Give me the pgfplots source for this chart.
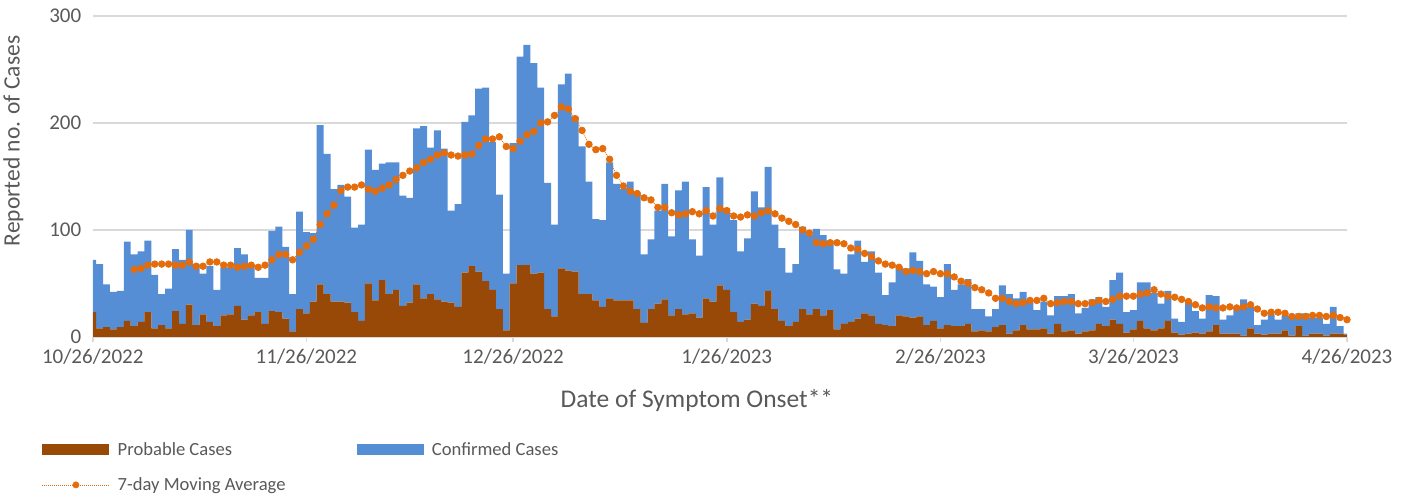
\documentclass[border=0pt]{standalone}
\usepackage{fontspec}
\setmainfont{Carlito}
\usepackage{pgfplots}
\usepackage{pgfplotstable}
\pgfplotsset{compat=1.18}
\definecolor{probc}{HTML}{984807}
\definecolor{confc}{HTML}{558ED5}
\definecolor{mac}{HTML}{E46C0A}
\definecolor{txtc}{HTML}{595959}
\definecolor{gridc}{HTML}{D9D9D9}

\pgfplotstableread{
d P C
0 23 49
1 8 60
2 9 40
3 7 35
4 9 34
5 15 74
6 10 67
7 14 66
8 23 67
9 8 50
10 11 29
11 8 37
12 24 58
13 12 60
14 30 70
15 11 57
16 21 38
17 14 52
18 10 34
19 20 45
20 21 44
21 29 54
22 16 61
23 20 46
24 23 32
25 12 43
26 24 75
27 23 80
28 17 67
29 5 35
30 26 91
31 22 76
32 33 64
33 49 149
34 40 131
35 33 105
36 33 109
37 32 99
38 23 79
39 15 90
40 50 125
41 34 122
42 53 109
43 40 123
44 44 119
45 29 103
46 32 98
47 49 146
48 36 161
49 40 137
50 35 158
51 33 143
52 32 86
53 28 96
54 60 141
55 66 141
56 61 171
57 52 181
58 44 138
59 26 107
60 6 53
61 50 131
62 67 195
63 67 206
64 59 197
65 60 173
66 26 118
67 19 86
68 64 172
69 62 184
70 61 145
71 40 138
72 40 105
73 34 76
74 28 81
75 36 127
76 34 109
77 34 104
78 34 111
79 26 109
80 13 64
81 26 65
82 31 87
83 35 108
84 20 74
85 26 111
86 21 124
87 22 69
88 18 58
89 36 104
90 33 72
91 48 101
92 44 76
93 23 86
94 14 66
95 16 76
96 31 105
97 29 92
98 43 116
99 26 79
100 15 68
101 10 50
102 14 54
103 26 77
104 21 74
105 26 75
106 20 75
107 25 65
108 7 56
109 12 47
110 14 63
111 17 73
112 22 48
113 20 60
114 12 48
115 11 28
116 10 41
117 20 45
118 19 45
119 18 61
120 19 52
121 11 38
122 15 32
123 8 29
124 11 57
125 10 34
126 10 39
127 12 42
128 5 21
129 6 20
130 5 14
131 9 17
132 11 37
133 3 37
134 6 30
135 11 31
136 7 27
137 7 18
138 8 25
139 3 17
140 12 26
141 5 33
142 6 34
143 3 19
144 5 22
145 6 29
146 12 25
147 10 18
148 16 37
149 12 48
150 4 19
151 7 18
152 15 36
153 8 43
154 6 35
155 8 23
156 15 28
157 4 13
158 2 12
159 3 31
160 4 20
161 3 14
162 5 34
163 11 27
164 3 13
165 3 17
166 3 24
167 1 34
168 8 20
169 3 8
170 2 14
171 3 18
172 3 13
173 6 14
174 1 18
175 10 12
176 1 21
177 3 15
178 3 15
179 1 11
180 3 25
181 3 7
182 2 1
}\bars

\pgfplotstableread{
d M
6 63
7 64
8 67
9 68
10 68
11 68
12 67
13 67
14 70
15 66
16 66
17 70
18 70
19 67
20 67
21 65
22 66
23 67
24 65
25 67
26 72
27 77
28 77
29 72
30 79
31 85
32 91
33 105
34 115
35 123
36 137
37 140
38 140
39 142
40 138
41 136
42 139
43 142
44 147
45 151
46 155
47 158
48 163
49 166
50 170
51 172
52 170
53 169
54 170
55 171
56 179
57 185
58 185
59 187
60 178
61 176
62 183
63 189
64 192
65 200
66 201
67 207
68 215
69 213
70 204
71 193
72 180
73 175
74 176
75 166
76 151
77 141
78 136
79 134
80 130
81 128
82 121
83 121
84 116
85 114
86 115
87 117
88 115
89 118
90 113
91 120
92 118
93 113
94 112
95 114
96 113
97 116
98 118
99 115
100 111
101 108
102 105
103 100
104 97
105 88
106 87
107 88
108 88
109 87
110 83
111 82
112 78
113 75
114 71
115 68
116 67
117 65
118 61
119 62
120 61
121 59
122 61
123 59
124 59
125 56
126 52
127 50
128 46
129 44
130 41
131 36
132 36
133 33
134 31
135 32
136 34
137 34
138 36
139 31
140 32
141 33
142 33
143 31
144 31
145 32
146 34
147 33
148 35
149 38
150 38
151 38
152 40
153 41
154 44
155 40
156 38
157 37
158 35
159 33
160 30
161 27
162 28
163 27
164 27
165 28
166 27
167 28
168 30
169 26
170 22
171 23
172 23
173 22
174 19
175 19
176 19
177 20
178 20
179 19
180 20
181 18
182 16
}\mavg

\begin{document}
\begin{tikzpicture}
\path (0pt,0pt) rectangle (1404pt,501pt);
\begin{axis}[
  at={(92pt,164pt)}, anchor=south west,
  width=1255pt, height=321pt, scale only axis,
  xmin=0, xmax=182, ymin=0, ymax=300,
  ybar stacked, bar width=1,
  axis x line*=bottom, axis y line*=left,
  y axis line style={draw=none},
  x axis line style={draw=gridc, line width=1.5pt},
  xtick={0,31,61,92,123,151,182},
  xticklabels={10/26/2022,11/26/2022,12/26/2022,1/26/2023,2/26/2023,3/26/2023,4/26/2023},
  ytick={0,100,200,300},
  ymajorgrids, grid style={draw=gridc, line width=1.5pt},
  tick align=outside, major tick length=5pt,
  xtick style={draw=gridc, line width=1.5pt},
  ytick style={draw=none},
  /pgf/number format/assume math mode=true,
  tick label style={font=\fontsize{21}{25}\selectfont, text=txtc},
  xticklabel style={yshift=-4pt},
  yticklabel style={xshift=-3pt},
  xlabel={Date of Symptom Onset**},
  xlabel style={at={(axis description cs:0.4817,-0.2212)}, anchor=base, font=\fontsize{25.5}{30}\selectfont, text=txtc},
  ylabel={Reported no. of Cases},
  ylabel style={at={(axis description cs:-0.0633,0.6106)}, anchor=center, font=\fontsize{23.5}{28}\selectfont, text=txtc},
  legend columns=2,
  legend cell align=left,
  legend style={draw=none, fill=none, inner sep=0pt,
    at={(axis description cs:-0.0406,-0.322)}, anchor=north west,
    font=\fontsize{18.6}{22}\selectfont, text=txtc,
    /tikz/every odd column/.append style={column sep=6pt},
    /tikz/every even column/.append style={column sep=69.5pt},
    row sep=17pt},
]
\addplot[fill=probc, draw=none,
  legend image code/.code={\fill[probc] (0pt,-5.75pt) rectangle (67pt,5.75pt);}]
  table[x=d, y=P] {\bars};
\addlegendentry{Probable Cases}
\addplot[fill=confc, draw=none,
  legend image code/.code={\fill[confc] (0pt,-5.75pt) rectangle (67pt,5.75pt);}]
  table[x=d, y=C] {\bars};
\addlegendentry{Confirmed Cases}
\addlegendimage{legend image code/.code={\draw[mac, line width=0.75pt, dash pattern=on 1pt off 1pt] (0pt,0pt) -- (67pt,0pt); \fill[mac] (33.5pt,0pt) circle (3.2pt);}}
\addlegendentry{7-day Moving Average}
\end{axis}
\begin{axis}[
  at={(92pt,164pt)}, anchor=south west,
  width=1255pt, height=321pt, scale only axis,
  xmin=0, xmax=182, ymin=0, ymax=300,
  hide axis]
\addplot[mac, line width=0.75pt, dash pattern=on 1pt off 1pt,
  mark=*, mark size=3.3pt, mark options={solid, fill=mac, draw=mac}]
  table[x=d, y=M] {\mavg};
\end{axis}
\end{tikzpicture}
\end{document}
